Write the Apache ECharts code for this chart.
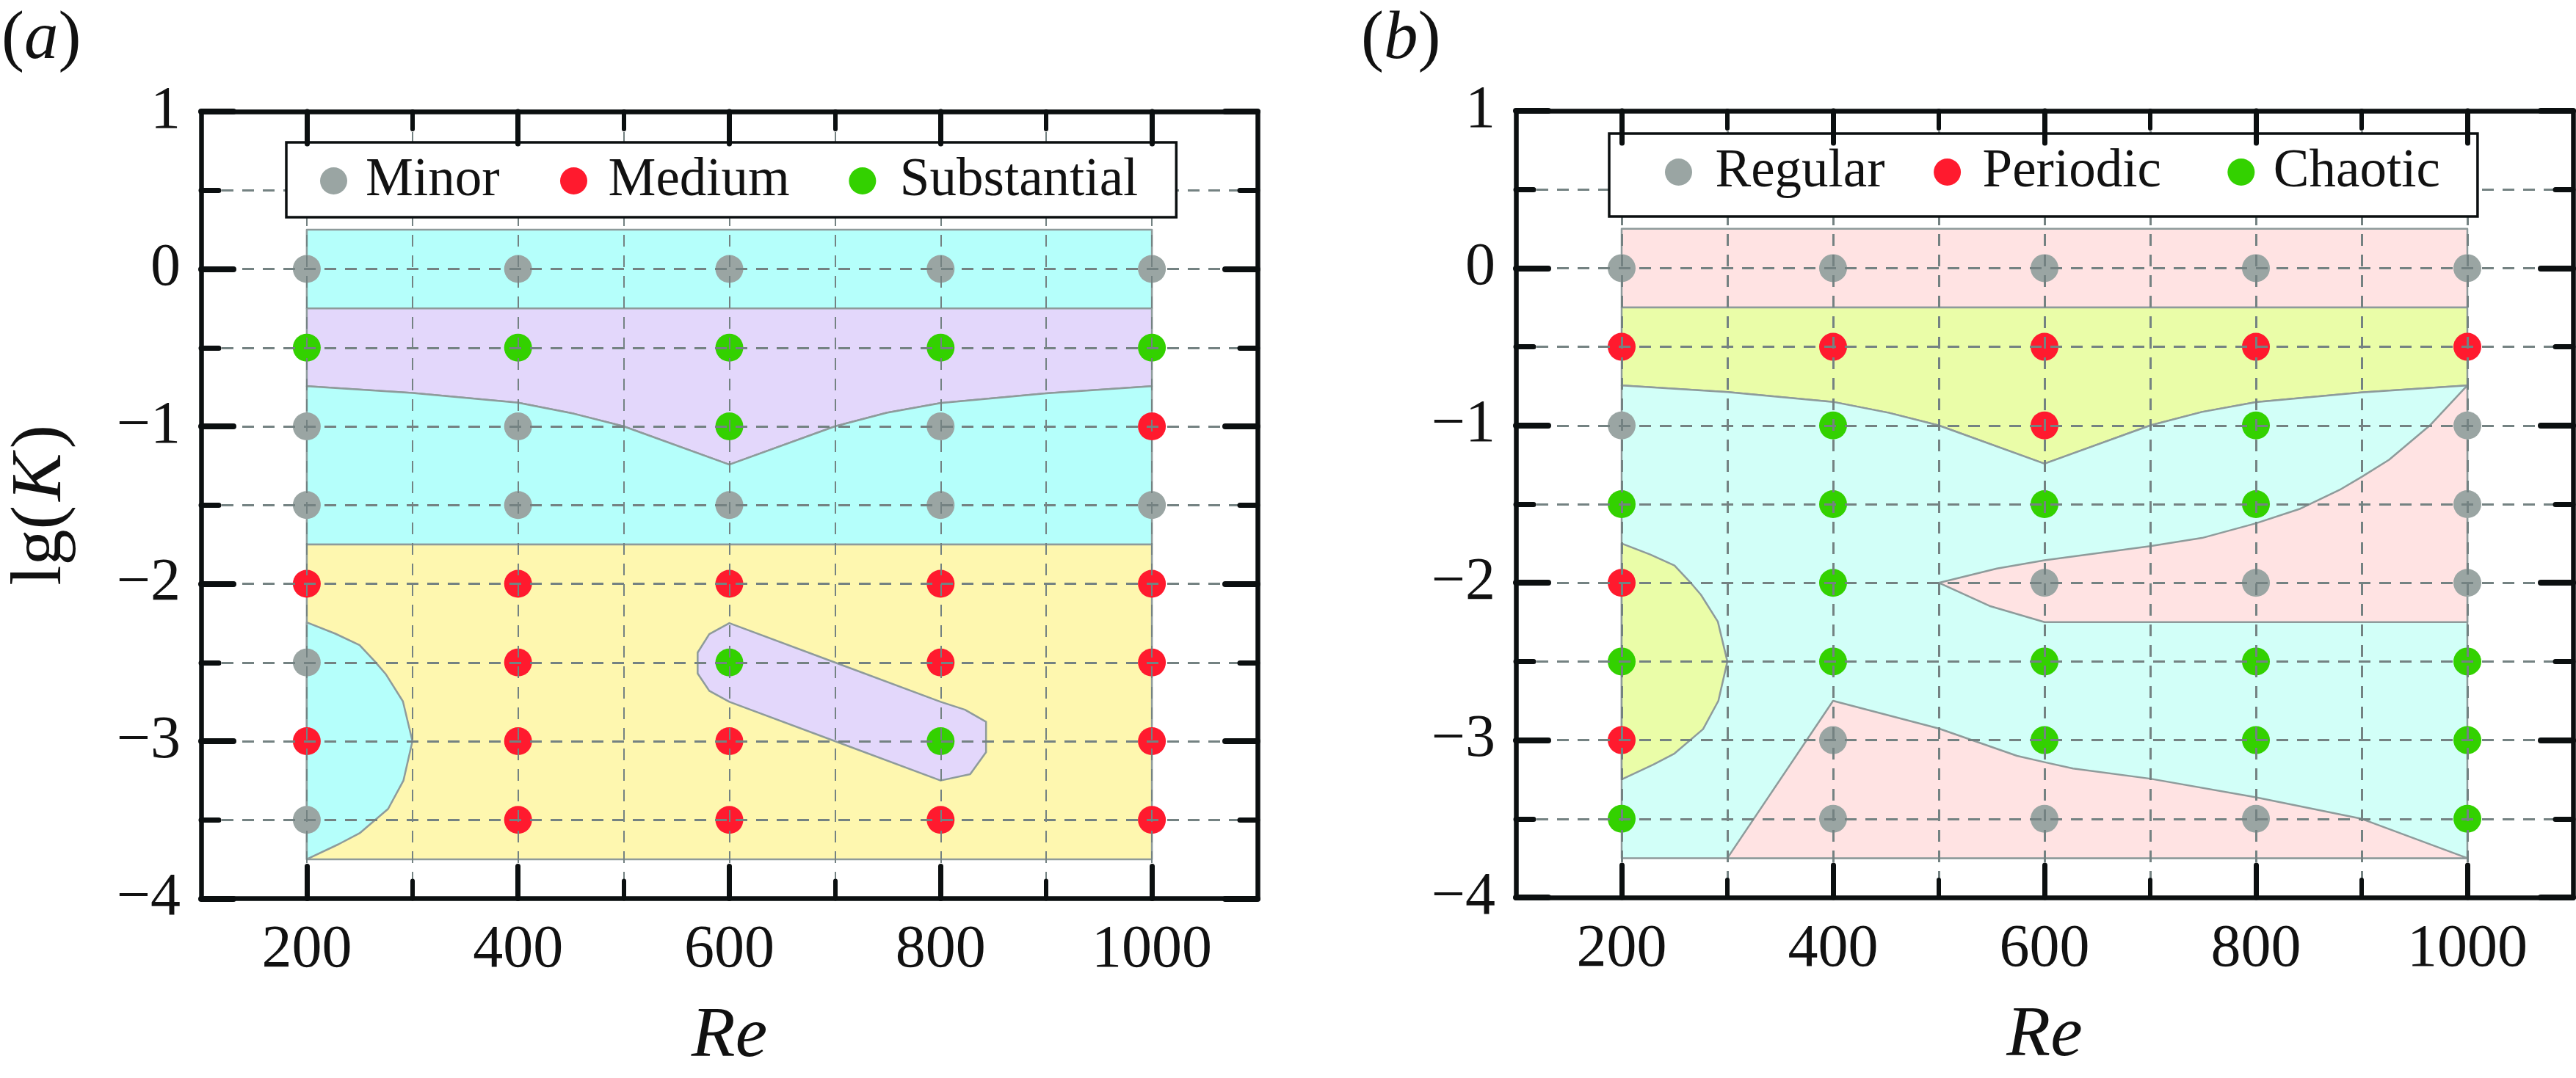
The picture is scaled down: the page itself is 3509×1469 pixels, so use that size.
<!DOCTYPE html>
<html><head><meta charset="utf-8">
<style>html,body{margin:0;padding:0;background:#fff}#c{width:3509px;height:1469px}</style>
<script src="https://cdn.jsdelivr.net/npm/echarts@6/dist/echarts.min.js"></script>
</head><body><div id="c"></div>
<script>
const reMajor = [200, 400, 600, 800, 1000];
const reMinor = [300, 500, 700, 900];

// panel (a): markers [Re, lg K]
const aMinor = [[200,0],[400,0],[600,0],[800,0],[1000,0],[200,-1],[400,-1],[800,-1],[200,-1.5],[400,-1.5],[600,-1.5],[800,-1.5],[1000,-1.5],[200,-2.5],[200,-3.5]];
const aMedium = [[1000,-1],[200,-2],[400,-2],[600,-2],[800,-2],[1000,-2],[400,-2.5],[800,-2.5],[1000,-2.5],[200,-3],[400,-3],[600,-3],[1000,-3],[400,-3.5],[600,-3.5],[800,-3.5],[1000,-3.5]];
const aSubstantial = [[200,-0.5],[400,-0.5],[600,-0.5],[800,-0.5],[1000,-0.5],[600,-1],[600,-2.5],[800,-3]];

// panel (b): markers
const bRegular = [[200,0],[400,0],[600,0],[800,0],[1000,0],[200,-1],[1000,-1],[1000,-1.5],[600,-2],[800,-2],[1000,-2],[400,-3],[400,-3.5],[600,-3.5],[800,-3.5]];
const bPeriodic = [[200,-0.5],[400,-0.5],[600,-0.5],[800,-0.5],[1000,-0.5],[600,-1],[200,-2],[200,-3]];
const bChaotic = [[400,-1],[800,-1],[200,-1.5],[400,-1.5],[600,-1.5],[800,-1.5],[400,-2],[200,-2.5],[400,-2.5],[600,-2.5],[800,-2.5],[1000,-2.5],[600,-3],[800,-3],[1000,-3],[200,-3.5],[1000,-3.5]];

// shared boundary between the upper bands
const vBoundary = [[200,-0.745],[300,-0.788],[400,-0.85],[453,-0.92],[500,-1],[600,-1.243],[700,-1],[749,-0.914],[800,-0.852],[900,-0.79],[1000,-0.745]];

// panel (a): regions
const aTopBand = [[200,0.25],[1000,0.25],[1000,-0.25],[200,-0.25]];
const aUpperBand = [[200,-0.25],[1000,-0.25],...vBoundary.slice().reverse()];
const aMidBand = [...vBoundary,[1000,-1.75],[200,-1.75]];
const aLowBand = [[200,-1.75],[1000,-1.75],[1000,-3.75],[200,-3.75]];
const aLobe = [[200,-2.245],[227,-2.317],[250,-2.39],[264,-2.49],[275,-2.576],[291,-2.747],[300,-3],[291.5,-3.25],[277,-3.43],[250,-3.585],[230,-3.655],[200,-3.75]];
const aBlob = [[600,-2.25],[581,-2.32],[570,-2.437],[570,-2.57],[581,-2.68],[600,-2.75],[700,-3],[800,-3.25],[828,-3.21],[843,-3.07],[843,-2.877],[823,-2.8],[800,-2.75],[700,-2.5]];

// panel (b): regions
const bTopBand = aTopBand;
const bUpperBand = aUpperBand;
const bBase = [...vBoundary,[1000,-3.75],[200,-3.75]];
const bRightPatch = [[1000,-0.745],[964.5,-1],[926,-1.218],[900,-1.327],[879,-1.41],[842,-1.529],[800,-1.622],[749,-1.715],[700,-1.767],[600,-1.857],[555,-1.909],[500,-2],[548,-2.147],[600,-2.25],[1000,-2.25]];
const bLobe = [[200,-1.75],[227,-1.82],[250,-1.89],[264,-1.99],[275,-2.076],[291,-2.247],[300,-2.5],[291.5,-2.75],[277,-2.93],[250,-3.085],[230,-3.155],[200,-3.25]];
const bLowPatch = [[300,-3.75],[400,-2.75],[500,-2.926],[574,-3.1],[600,-3.14],[627,-3.18],[700,-3.245],[800,-3.363],[900,-3.5],[1000,-3.75]];

const cGray='#9AA5A3', cRed='#FF1A2E', cGreen='#33D100';
const cCyan='#B5FFFB', cLilac='#E3D7FB', cYellow='#FEF7AF', cPink='#FFE3E3', cLime='#EAFDA8', cMint='#D2FFF8';
const ink='#0B0F10', edge='#8E9B9B', dash='#748282', serif='Liberation Serif';

const grids=[
 {left:274,top:152,width:1439,height:1072.5,outerBoundsMode:'none',containLabel:false},
 {left:2065,top:151,width:1440,height:1072,outerBoundsMode:'none',containLabel:false}
];

function xAxes(g, vw){
 const base={gridIndex:g,type:'value',min:100,max:1100,interval:100,
  axisLine:{show:false},axisTick:{show:false},axisLabel:{show:false},splitLine:{show:false},z:6};
 const tick=(pos,vals,len,w,line,labels)=>Object.assign({},base,{position:pos,
  axisLine:{show:line,onZero:false,lineStyle:{color:ink,width:6.5,cap:'round'}},
  axisTick:{show:true,inside:true,customValues:vals,length:len,lineStyle:{color:ink,width:w,cap:'round'}}},
  labels?{axisLabel:{show:true,customValues:reMajor,margin:30,color:'#111',fontFamily:serif,fontSize:82,showMinLabel:true,showMaxLabel:true,formatter:v=>String(v)},
   name:'Re',nameLocation:'middle',nameGap:140,nameTextStyle:{fontFamily:serif,fontStyle:'italic',fontSize:98,color:'#111'}}:{});
 return [
  Object.assign({},base,{position:'bottom',z:4,splitLine:{show:true,showMinLine:false,showMaxLine:false,lineStyle:{color:dash,width:vw,type:[16,12]}}}),
  tick('bottom',reMajor,44,7,true,true),
  tick('bottom',reMinor,24,6,false,false),
  tick('top',reMajor,44,7,true,false),
  tick('top',reMinor,24,6,false,false)
 ];
}
function yAxes(g, named){
 const base={gridIndex:g,type:'value',min:-4,max:1,interval:1,
  axisLine:{show:false},axisTick:{show:false},axisLabel:{show:false},splitLine:{show:false},z:6};
 const frame=(pos,labels)=>Object.assign({},base,{position:pos,
  axisLine:{show:true,onZero:false,lineStyle:{color:ink,width:6.5,cap:'round'}},
  axisTick:{show:true,inside:true,length:44,lineStyle:{color:ink,width:8,cap:'round'}},
  minorTick:{show:true,splitNumber:2,length:24,lineStyle:{color:ink,width:7,cap:'round'}}},
  labels?{axisLabel:{show:true,margin:28,padding:[0,0,7,0],color:'#111',fontFamily:serif,fontSize:82,showMinLabel:true,showMaxLabel:true,
   formatter:v=>v<0?'\u2212'+Math.abs(v):String(v)}}:{},
  labels&&named?{name:'{n|lg(}{i|K}{n|)}',nameLocation:'middle',nameGap:169,nameRotate:90,
   nameTextStyle:{rich:{n:{fontFamily:serif,fontSize:98,color:'#111'},i:{fontFamily:serif,fontStyle:'italic',fontSize:98,color:'#111',padding:[0,6,0,6]}}}}:{});
 return [
  Object.assign({},base,{position:'left',interval:0.5,z:4,splitLine:{show:true,showMinLine:false,showMaxLine:false,lineStyle:{color:dash,width:3,type:[16,12]}}}),
  frame('left',true),
  frame('right',false)
 ];
}
function region(g,pts,color){
 return {type:'custom',xAxisIndex:g*5,yAxisIndex:g*3,coordinateSystem:'cartesian2d',z:1,silent:true,clip:false,data:[[pts[0][0],pts[0][1]]],
  renderItem:(p,api)=>({type:'polygon',shape:{points:pts.map(q=>api.coord(q))},style:{fill:color,stroke:edge,lineWidth:2.5,lineJoin:'round'}})};
}
function marks(g,name,data,color){
 return {type:'scatter',name,xAxisIndex:g*5,yAxisIndex:g*3,data,symbol:'circle',symbolSize:38,z:2,itemStyle:{color,opacity:1}};
}
function legend(left,top,pad,gap,names){
 return {show:true,left,top,orient:'horizontal',z:5,padding:pad,itemGap:gap,itemWidth:37,itemHeight:37,icon:'circle',
  backgroundColor:'#fff',borderColor:ink,borderWidth:3.5,borderRadius:0,selectedMode:false,
  data:names.map(n=>({name:n[0],textStyle:{padding:n[1]}})),
  textStyle:{fontFamily:serif,fontSize:73,color:'#111',lineHeight:73}};
}
const paren=()=>({n:{fontFamily:serif,fontSize:93,color:'#111'},i:{fontFamily:serif,fontStyle:'italic',fontSize:93,color:'#111'}});

const option={
 animation:false,backgroundColor:'#fff',
 title:[
  {text:'{n|(}{i|a}{n|)}',left:2,top:8,padding:0,textStyle:{fontWeight:'normal',rich:paren()}},
  {text:'{n|(}{i|b}{n|)}',left:1854,top:8,padding:0,textStyle:{fontWeight:'normal',rich:paren()}}
 ],
 grid:grids,
 xAxis:[...xAxes(0,2),...xAxes(1,3)],
 yAxis:[...yAxes(0,true),...yAxes(1,false)],
 legend:[
  legend(390,194,[13,52,10,46],80.5,[['Minor',[6,2,0,20]],['Medium',[6,0,0,23.5]],['Substantial',[6,0,0,27.5]]]),
  legend(2192,182,[16,51,24,76],66.5,[['Regular',[0,0,0,26.5]],['Periodic',[0,24,0,24.5]],['Chaotic',[0,0,0,20.5]]])
 ],
 series:[
  region(0,aTopBand,cCyan),region(0,aUpperBand,cLilac),region(0,aMidBand,cCyan),region(0,aLowBand,cYellow),region(0,aLobe,cCyan),region(0,aBlob,cLilac),
  region(1,bTopBand,cPink),region(1,bUpperBand,cLime),region(1,bBase,cMint),region(1,bRightPatch,cPink),region(1,bLobe,cLime),region(1,bLowPatch,cPink),
  marks(0,'Minor',aMinor,cGray),marks(0,'Medium',aMedium,cRed),marks(0,'Substantial',aSubstantial,cGreen),
  marks(1,'Regular',bRegular,cGray),marks(1,'Periodic',bPeriodic,cRed),marks(1,'Chaotic',bChaotic,cGreen)
 ]
};
echarts.init(document.getElementById('c')).setOption(option);
</script></body></html>
